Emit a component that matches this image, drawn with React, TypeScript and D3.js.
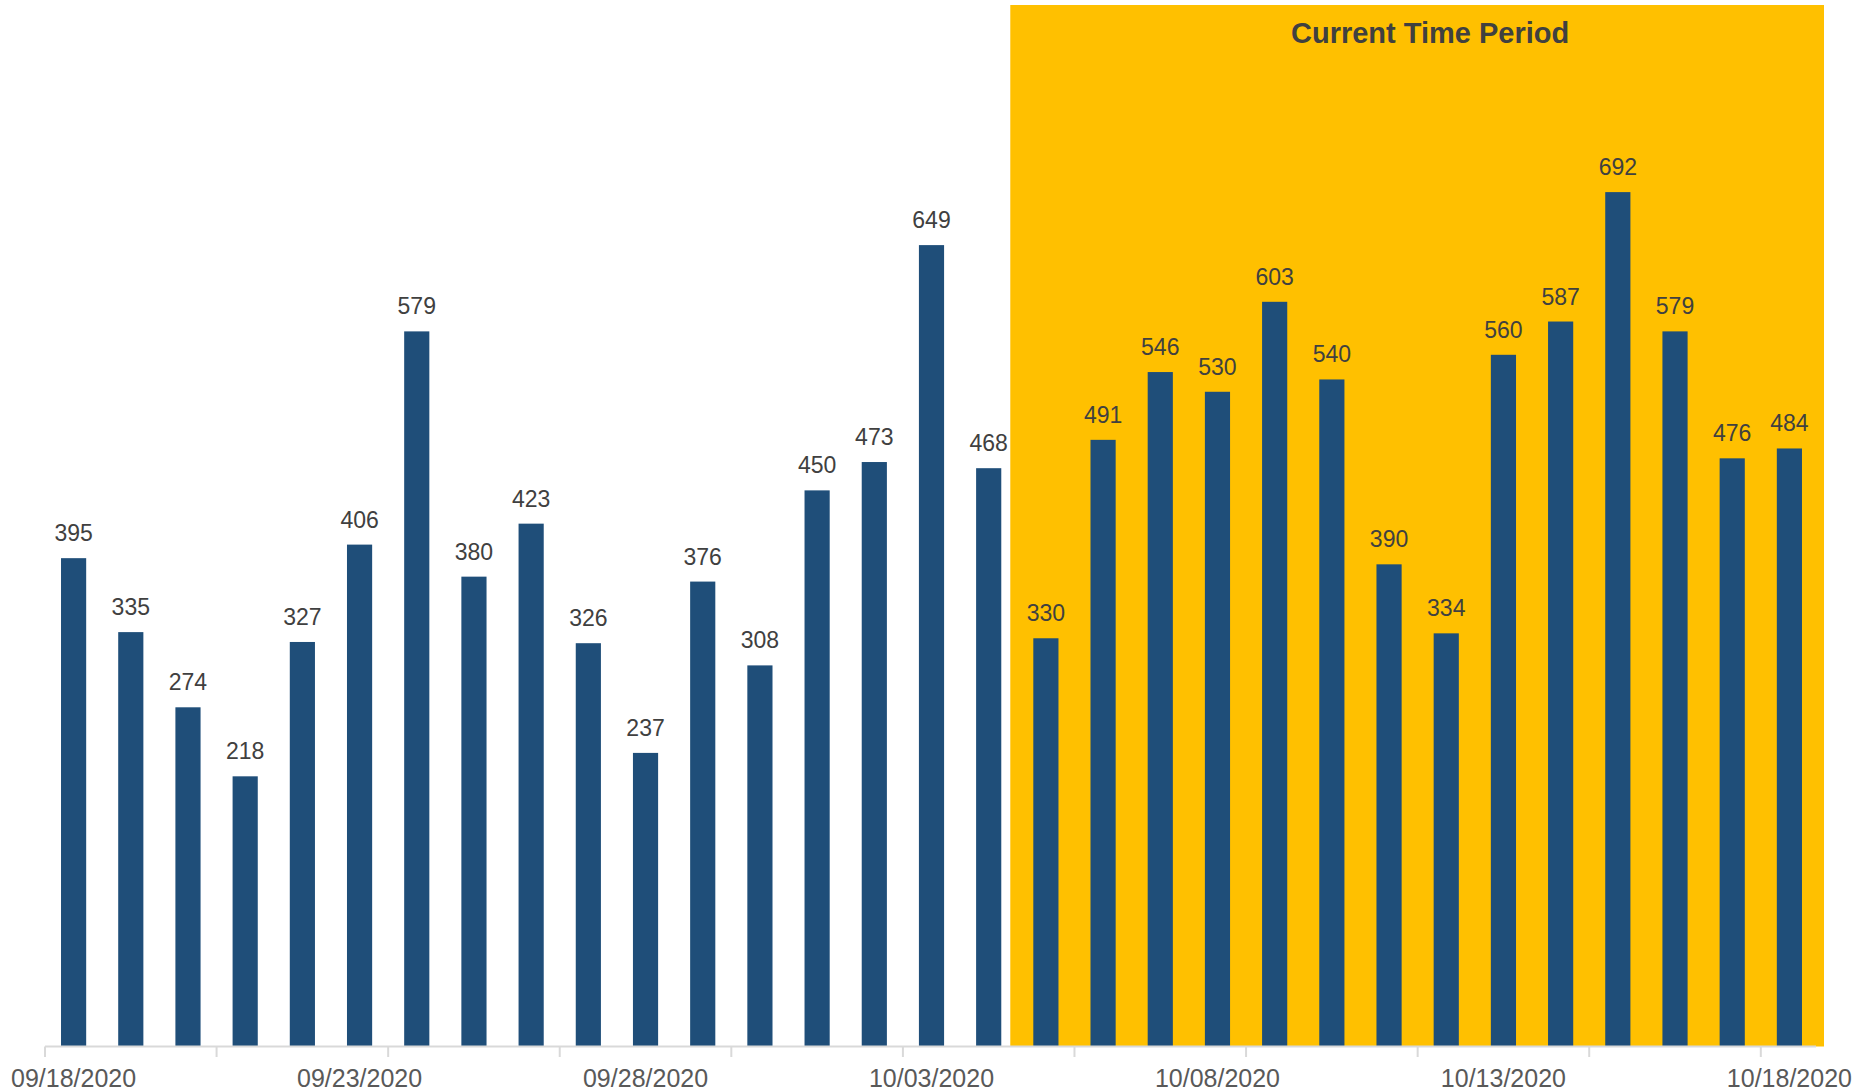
import React from "react";
import * as d3 from "d3";

// Daily counts
const dates = [
  "09/18/2020", "09/19/2020", "09/20/2020", "09/21/2020", "09/22/2020", "09/23/2020",
  "09/24/2020", "09/25/2020", "09/26/2020", "09/27/2020", "09/28/2020", "09/29/2020",
  "09/30/2020", "10/01/2020", "10/02/2020", "10/03/2020", "10/04/2020", "10/05/2020",
  "10/06/2020", "10/07/2020", "10/08/2020", "10/09/2020", "10/10/2020", "10/11/2020",
  "10/12/2020", "10/13/2020", "10/14/2020", "10/15/2020", "10/16/2020", "10/17/2020",
  "10/18/2020",
];
const counts = [
  395, 335, 274, 218, 327, 406, 579, 380, 423, 326, 237, 376, 308, 450, 473, 649,
  468, 330, 491, 546, 530, 603, 540, 390, 334, 560, 587, 692, 579, 476, 484,
];
const labelledDates = ["09/18/2020", "09/23/2020", "09/28/2020", "10/03/2020", "10/08/2020", "10/13/2020", "10/18/2020"];
const periodStart = "10/05/2020";
const periodTitle = "Current Time Period";

const W = 1870;
const H = 1091;
const FONT = "'Liberation Sans', Arial, sans-serif";

export default function App() {
  const x = d3.scaleBand<string>().domain(dates).range([45, 1818]).paddingInner(0.56).paddingOuter(0.28);
  const y = d3.scaleLinear().domain([0, 800]).range([1045, 59]);
  const step = x.step();
  const left0 = x(dates[0])! - x.paddingOuter() * step;
  const boundary = (i: number) => left0 + i * step;
  const tickIdx = d3.range(0, dates.length, 3);
  const startIdx = dates.indexOf(periodStart);
  const hlX0 = boundary(startIdx) - 7;
  const hlX1 = boundary(dates.length) + 6;
  const axisY = 1046.5;

  return (
    <svg width={W} height={H} style={{ position: "absolute", left: 0, top: 0, background: "#fff" }}>
      <rect x={0} y={0} width={W} height={H} fill="#fff" />
      <rect x={hlX0} y={5} width={hlX1 - hlX0} height={axisY - 5} fill="#FFC000" />
      <text x={(hlX0 + hlX1) / 2 + 13} y={43} textAnchor="middle" fontFamily={FONT} fontWeight="bold" fontSize={29} fill="#404040">
        {periodTitle}
      </text>
      {dates.map((d, i) => (
        <g key={d}>
          <rect x={x(d)} y={y(counts[i])} width={x.bandwidth()} height={y(0) - y(counts[i]) + 1} fill="#1F4E79" />
          <text x={x(d)! + x.bandwidth() / 2} y={y(counts[i]) - 17} textAnchor="middle" fontFamily={FONT} fontSize={23} fill="#404040">
            {counts[i]}
          </text>
        </g>
      ))}
      <line x1={boundary(0)} x2={boundary(dates.length) - 2} y1={axisY} y2={axisY} stroke="#D9D9D9" strokeWidth={2} />
      {tickIdx.map((i) => (
        <line key={i} x1={boundary(i)} x2={boundary(i)} y1={axisY} y2={1057} stroke="#D9D9D9" strokeWidth={2} />
      ))}
      {labelledDates.map((d) => (
        <text key={d} x={x(d)! + x.bandwidth() / 2} y={1087} textAnchor="middle" fontFamily={FONT} fontSize={25} fill="#595959">
          {d}
        </text>
      ))}
    </svg>
  );
}
